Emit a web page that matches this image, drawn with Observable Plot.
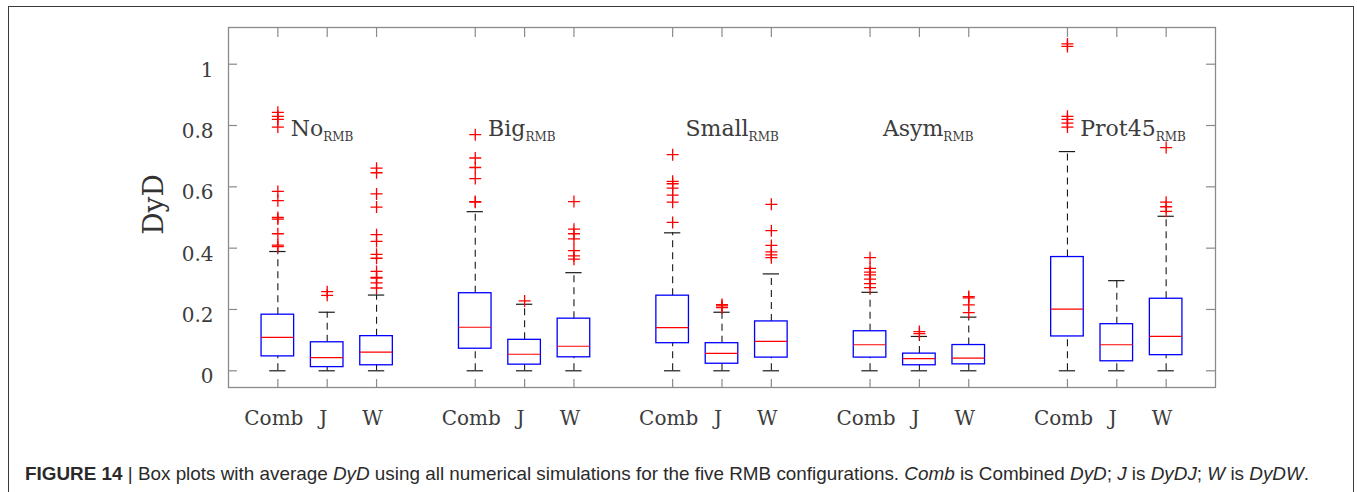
<!DOCTYPE html>
<html>
<head>
<meta charset="utf-8">
<script src="https://cdn.jsdelivr.net/npm/d3@7"></script>
<script src="https://cdn.jsdelivr.net/npm/@observablehq/plot@0.6"></script>
<style>
  html, body { margin: 0; padding: 0; background: #fff; overflow: hidden; width: 1357px; height: 492px; }
  #frame { position: absolute; left: 8px; top: 6px; width: 1346px; height: 600px; box-sizing: border-box; border: 1.5px solid #3a3a3a; }
  #chart { position: absolute; left: 0; top: 0; }
  #caption { position: absolute; left: 25px; top: 464px; white-space: nowrap; font-family: "Liberation Sans Narrow", "Liberation Sans", Arial, sans-serif; font-size: 19px; line-height: 19px; color: #2a2a2a; transform-origin: 0 0; }
  #caption b { font-weight: bold; }
</style>
</head>
<body>
<div id="frame"></div>
<div id="chart"></div>
<div id="caption"><b>FIGURE 14</b> | Box plots with average <i>DyD</i> using all numerical simulations for the five RMB configurations. <i>Comb</i> is Combined <i>DyD</i>; <i>J</i> is <i>DyDJ</i>; <i>W</i> is <i>DyDW</i>.</div>
<script>
// ---- data ----
const groups = ["No", "Big", "Small", "Asym", "Prot45"];
const seriesNames = ["Comb", "J", "W"];
const yTickValues = [0, 0.2, 0.4, 0.6, 0.8, 1];
const yTickLabels = ["0", "0.2", "0.4", "0.6", "0.8", "1"];

// one entry per box, in order No(Comb,J,W), Big(...), Small(...), Asym(...), Prot45(...)
const q1 =          [0.047, 0.012, 0.018,  0.072, 0.020, 0.044,  0.090, 0.023, 0.043,  0.043, 0.018, 0.021,  0.112, 0.031, 0.051];
const medians =     [0.109, 0.043, 0.061,  0.142, 0.054, 0.080,  0.141, 0.057, 0.096,  0.085, 0.040, 0.041,  0.201, 0.085, 0.112];
const q3 =          [0.183, 0.093, 0.113,  0.253, 0.101, 0.170,  0.245, 0.090, 0.161,  0.129, 0.056, 0.084,  0.371, 0.152, 0.235];
const whiskerLow =  [0, 0, 0,  0, 0, 0,  0, 0, 0,  0, 0, 0,  0, 0, 0];
const whiskerHigh = [0.389, 0.191, 0.247,  0.519, 0.217, 0.320,  0.450, 0.191, 0.316,  0.256, 0.112, 0.175,  0.715, 0.294, 0.504];
const outliers = [
  [0.405, 0.410, 0.447, 0.495, 0.500, 0.555, 0.585, 0.795, 0.820, 0.830, 0.843],
  [0.246, 0.258],
  [0.270, 0.287, 0.302, 0.305, 0.324, 0.367, 0.380, 0.422, 0.444, 0.534, 0.577, 0.646, 0.661],
  [0.550, 0.552, 0.627, 0.663, 0.694, 0.770],
  [0.228],
  [0.364, 0.375, 0.392, 0.430, 0.447, 0.462, 0.552],
  [0.484, 0.550, 0.573, 0.596, 0.610, 0.618, 0.705],
  [0.206, 0.212, 0.216],
  [0.369, 0.378, 0.388, 0.409, 0.457, 0.543],
  [0.271, 0.284, 0.299, 0.313, 0.322, 0.334, 0.369],
  [0.121, 0.128],
  [0.190, 0.215, 0.238, 0.242],
  [0.795, 0.808, 0.820, 0.830, 1.058, 1.066],
  [],
  [0.520, 0.535, 0.550, 0.728]
];

// ---- build tables ----
const rows = [];
groups.forEach((g, gi) => seriesNames.forEach((s, si) => {
  const i = gi * seriesNames.length + si;
  rows.push({group: g, series: s, pos: gi * 4 + si, q1: q1[i], med: medians[i], q3: q3[i], lo: whiskerLow[i], hi: whiskerHigh[i]});
}));
const outlierRows = rows.flatMap((r, i) => outliers[i].map(v => ({pos: r.pos, value: v})));
const positions = rows.map(r => r.pos);
const labelRows = groups.map((g, gi) => ({name: g, pos: gi * 4}));

// ---- layout ----
const W = 1357, H = 440;
const mL = 228, mR = 142, mT = 27, mB = 53;
const plotW = W - mL - mR, plotH = H - mT - mB;
const boxHalf = 0.33, capHalf = 0.165, labelOffset = 0.26;
const serif = "DejaVu Serif, Liberation Serif, serif";
const textColor = "#3c3c3c";
const axisColor = "#8a8a8a";

const plusSymbol = {
  draw(context, size) {
    const r = Math.sqrt(size / Math.PI);
    context.moveTo(-r, 0); context.lineTo(r, 0);
    context.moveTo(0, -r); context.lineTo(0, r);
  }
};

const chart = Plot.plot({
  width: W, height: H,
  marginLeft: mL, marginRight: mR, marginTop: mT, marginBottom: mB,
  style: {fontFamily: serif, color: textColor, background: "transparent", overflow: "visible"},
  x: {type: "linear", domain: [-1, 19]},
  y: {domain: [-0.0545, 1.1197]},
  marks: [
    // whiskers
    Plot.ruleX(rows, {x: "pos", y1: "q3", y2: "hi", stroke: "#1a1a1a", strokeWidth: 1.1, strokeDasharray: "7,5"}),
    Plot.ruleX(rows, {x: "pos", y1: "lo", y2: "q1", stroke: "#1a1a1a", strokeWidth: 1.1, strokeDasharray: "7,5"}),
    // caps
    Plot.ruleY(rows, {y: "hi", x1: d => d.pos - capHalf, x2: d => d.pos + capHalf, stroke: "#1a1a1a", strokeWidth: 1.2}),
    Plot.ruleY(rows, {y: "lo", x1: d => d.pos - capHalf, x2: d => d.pos + capHalf, stroke: "#1a1a1a", strokeWidth: 1.2}),
    // boxes
    Plot.rect(rows, {x1: d => d.pos - boxHalf, x2: d => d.pos + boxHalf, y1: "q1", y2: "q3", fill: "none", stroke: "#0000ff", strokeWidth: 1.3}),
    // medians
    Plot.ruleY(rows, {y: "med", x1: d => d.pos - boxHalf, x2: d => d.pos + boxHalf, stroke: "#ff0000", strokeWidth: 1.2}),
    // outliers
    Plot.dot(outlierRows, {x: "pos", y: "value", symbol: plusSymbol, r: 6, fill: "none", stroke: "#ff0000", strokeWidth: 1.3}),
    // frame and inward ticks
    Plot.frame({stroke: axisColor, strokeWidth: 1.3}),
    Plot.tickY(yTickValues, {y: d => d, insetRight: plotW - 9, stroke: axisColor, strokeWidth: 1.2}),
    Plot.tickY(yTickValues, {y: d => d, insetLeft: plotW - 9, stroke: axisColor, strokeWidth: 1.2}),
    Plot.tickX(positions, {x: d => d, insetTop: plotH - 8, stroke: axisColor, strokeWidth: 1.2}),
    Plot.tickX(positions, {x: d => d, insetBottom: plotH - 10, stroke: axisColor, strokeWidth: 1.2}),
    // axes labels
    Plot.axisY(yTickValues, {tickSize: 0, tickPadding: 15, dy: 6, fontSize: 20, tickFormat: d => yTickLabels[yTickValues.indexOf(d)], label: null}),
    Plot.axisX(positions, {tickSize: 0, tickPadding: 23, dx: -4, fontSize: 20, tickFormat: d => seriesNames[d % 4], label: null}),
    Plot.text(["DyD"], {frameAnchor: "left", textAnchor: "middle", rotate: -90, dx: -74, dy: -3, fontSize: 28, fill: "#333"}),
    // group labels
    Plot.text(labelRows, {x: d => d.pos + labelOffset, y: () => 0.766, text: "name", textAnchor: "start", lineAnchor: "bottom", fontSize: 22, fill: textColor, className: "grp-label"})
  ]
});
document.getElementById("chart").appendChild(chart);

// subscript "RMB" on the group labels
d3.select(chart).selectAll(".grp-label text").each(function() {
  const t = this.textContent;
  this.textContent = "";
  const sel = d3.select(this);
  sel.append("tspan").text(t);
  sel.append("tspan").attr("dy", 5).attr("font-size", 12).text("RMB");
});

// fit caption width to the reference (x 25 .. 1309)
const cap = document.getElementById("caption");
const w = cap.getBoundingClientRect().width;
cap.style.transform = `scaleX(${1284 / w})`;
</script>
</body>
</html>
